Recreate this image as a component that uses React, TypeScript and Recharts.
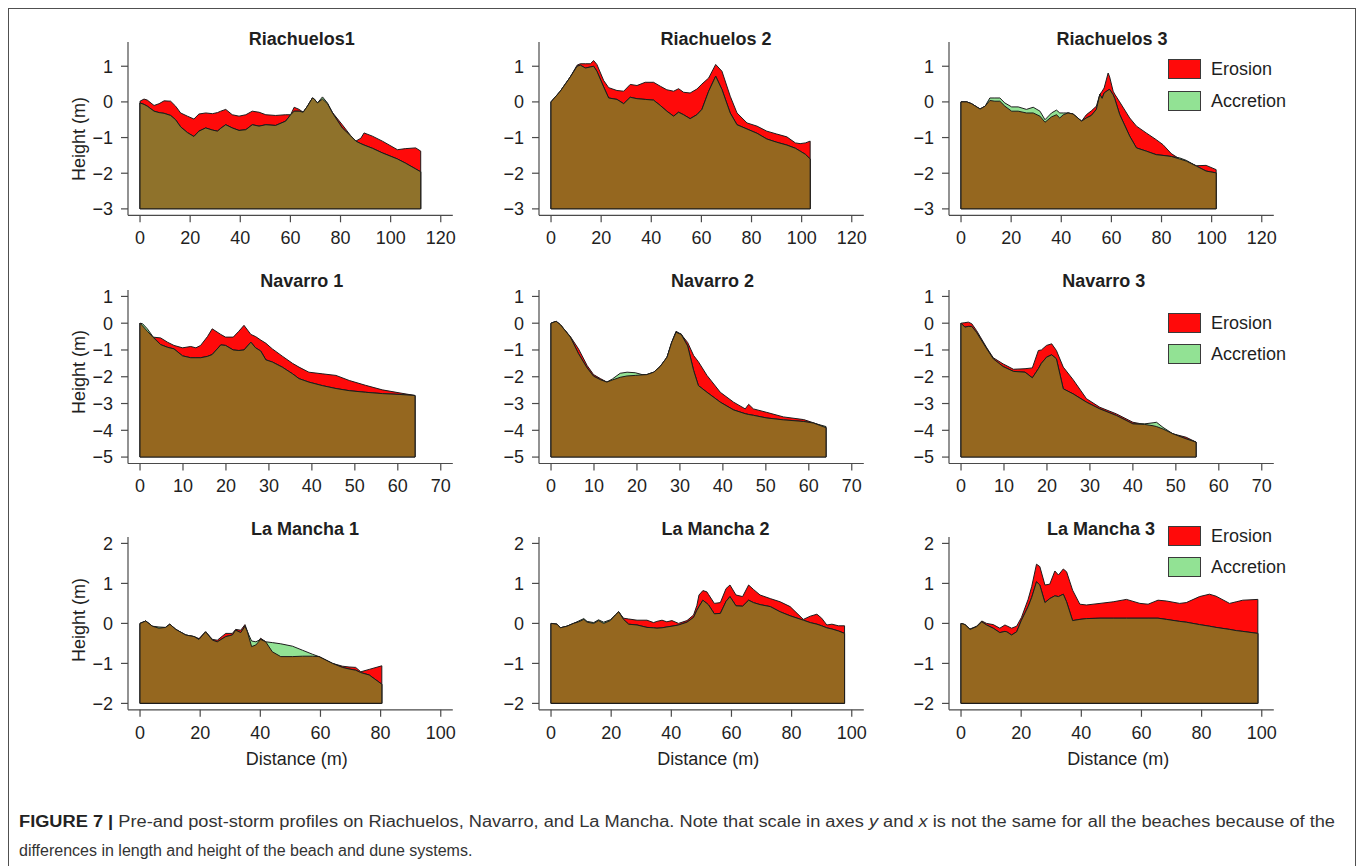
import React from 'react';
import { ComposedChart, Area, XAxis, YAxis, ReferenceLine, Legend } from 'recharts';

// ---- Profile data: distance (m), pre-storm and post-storm height (m) ----

const r1Dist = [0, 1.6, 2.9, 5.6, 7.6, 9.6, 12.2, 14.2, 16.2, 18.9, 21.5, 23.5, 26.2, 28.9, 30.9, 32.2, 34.2, 36.8, 39.5, 42.2, 44.8, 47.5, 50.2, 54.1, 58.1, 60.1, 61.5, 63.5, 65.1, 66.8, 68.8, 69.4, 70.8, 72.8, 74.8, 76.8, 80.7, 84, 86.1, 88.1, 89.4, 92.7, 96.7, 102.7, 106, 110, 112];
const r1Pre = [0.02, 0.08, 0.05, -0.1, -0.05, 0.03, 0.02, -0.12, -0.31, -0.4, -0.48, -0.34, -0.31, -0.33, -0.3, -0.26, -0.21, -0.36, -0.4, -0.36, -0.26, -0.29, -0.36, -0.38, -0.36, -0.36, -0.15, -0.21, -0.29, -0.12, 0.11, 0.09, -0.03, 0.08, -0.05, -0.3, -0.64, -0.94, -1.1, -1.02, -0.87, -0.96, -1.1, -1.34, -1.31, -1.29, -1.38];
const r1Post = [-0.03, -0.07, -0.12, -0.26, -0.3, -0.32, -0.38, -0.5, -0.7, -0.86, -0.97, -0.82, -0.73, -0.79, -0.82, -0.74, -0.64, -0.73, -0.8, -0.78, -0.64, -0.68, -0.64, -0.66, -0.54, -0.36, -0.26, -0.26, -0.29, -0.12, 0.11, 0.09, -0.03, 0.14, -0.03, -0.31, -0.73, -0.95, -1.1, -1.17, -1.21, -1.3, -1.43, -1.6, -1.72, -1.88, -1.96];

const r2Dist = [0, 3.7, 7.7, 10.4, 11.7, 13.7, 15.7, 17, 18.3, 21, 23, 26.3, 29, 31.6, 34.3, 37.6, 40.9, 43.6, 46.2, 48.9, 50.9, 52.9, 55.5, 58.2, 60.2, 62.9, 65.7, 68.2, 71.5, 74.2, 78.2, 82.2, 86.1, 90, 94.1, 97.5, 99.4, 101.5, 103.4];
const r2Pre = [0, 0.3, 0.7, 1.03, 1.07, 1.07, 1.07, 1.16, 1.05, 0.6, 0.4, 0.32, 0.3, 0.49, 0.46, 0.55, 0.55, 0.44, 0.34, 0.3, 0.37, 0.27, 0.25, 0.36, 0.5, 0.67, 1.05, 0.86, 0.16, -0.31, -0.59, -0.68, -0.82, -0.9, -0.98, -1.15, -1.17, -1.15, -1.1];
const r2Post = [0, 0.3, 0.7, 1.0, 1.03, 0.95, 0.98, 1.0, 0.86, 0.42, 0.11, 0.07, -0.05, 0.13, 0.09, 0.07, 0.05, -0.1, -0.26, -0.4, -0.29, -0.36, -0.47, -0.36, -0.21, 0.3, 0.72, 0.35, -0.31, -0.64, -0.76, -0.88, -1.04, -1.13, -1.21, -1.3, -1.38, -1.47, -1.6];

const r3Dist = [0, 2.3, 4.2, 7.6, 9.6, 11.5, 13.5, 15.5, 17.5, 20.2, 22.8, 26.1, 28.8, 31.5, 33.5, 36.1, 38.1, 39.4, 40.8, 42.7, 44.7, 48.1, 50, 52, 54, 55.4, 56.3, 57.1, 58.7, 59.3, 60.7, 61.3, 63.3, 67.3, 70, 73.9, 77.9, 80.6, 83.9, 87.2, 89.9, 93.9, 97.8, 101.8];
const r3Pre = [0, 0, -0.05, -0.2, -0.12, 0.04, 0.02, 0.02, -0.12, -0.26, -0.26, -0.31, -0.31, -0.4, -0.57, -0.42, -0.36, -0.45, -0.36, -0.31, -0.34, -0.54, -0.36, -0.25, -0.12, 0.21, 0.3, 0.39, 0.81, 0.7, 0.3, 0.22, 0, -0.45, -0.68, -0.87, -1.06, -1.2, -1.45, -1.6, -1.66, -1.79, -1.78, -1.9];
const r3Post = [0, 0, -0.05, -0.2, -0.12, 0.11, 0.11, 0.11, -0.03, -0.14, -0.14, -0.21, -0.15, -0.26, -0.5, -0.31, -0.23, -0.31, -0.31, -0.31, -0.34, -0.54, -0.45, -0.38, -0.21, 0.21, 0.1, 0.25, 0.33, 0.35, 0.2, 0.1, -0.35, -0.96, -1.29, -1.38, -1.48, -1.5, -1.53, -1.57, -1.64, -1.8, -1.94, -1.99];

const n1Dist = [0, 0.6, 1.7, 3, 4.8, 6.4, 7.9, 9.9, 11.8, 13, 14.1, 15.7, 16.8, 18.8, 19.9, 21.7, 23, 24.2, 25.8, 26.9, 28.1, 29.3, 30.8, 33.1, 35.5, 37, 39.3, 42.4, 45.6, 48.7, 52.5, 56.4, 60.3, 64];
const n1Pre = [0, -0.1, -0.3, -0.52, -0.55, -0.71, -0.83, -0.92, -0.87, -0.92, -0.83, -0.5, -0.21, -0.42, -0.52, -0.52, -0.3, -0.08, -0.42, -0.5, -0.63, -0.75, -0.96, -1.23, -1.5, -1.64, -1.83, -1.89, -1.95, -2.14, -2.32, -2.49, -2.6, -2.7];
const n1Post = [0, -0.02, -0.21, -0.5, -0.8, -0.9, -0.96, -1.22, -1.29, -1.29, -1.29, -1.24, -1.17, -0.81, -0.83, -1.0, -1.02, -1.0, -0.71, -0.92, -1.04, -1.37, -1.45, -1.64, -1.89, -2.07, -2.2, -2.33, -2.44, -2.52, -2.58, -2.63, -2.66, -2.7];

const n2Dist = [0, 1.2, 2.2, 4.5, 6.4, 8.4, 9.9, 11.5, 13, 14.3, 16.1, 17.7, 19.6, 21.2, 22.3, 23.9, 25.4, 27, 28.1, 29.1, 30.3, 31.8, 33.2, 34.3, 36.3, 39.4, 42.5, 45.2, 46, 47.1, 50.2, 54.1, 58.8, 61.1, 64];
const n2Pre = [0, 0.07, -0.06, -0.5, -0.96, -1.58, -1.92, -2.07, -2.2, -2.12, -2.02, -1.97, -1.95, -1.93, -1.92, -1.83, -1.62, -1.27, -0.71, -0.3, -0.42, -0.72, -1.21, -1.44, -1.95, -2.58, -2.95, -3.2, -3.03, -3.2, -3.33, -3.5, -3.6, -3.72, -3.9];
const n2Post = [0, 0.07, -0.06, -0.52, -1.14, -1.67, -1.98, -2.11, -2.2, -2.08, -1.87, -1.83, -1.85, -1.92, -1.92, -1.83, -1.62, -1.27, -0.71, -0.34, -0.4, -0.85, -1.77, -2.33, -2.58, -2.95, -3.24, -3.38, -3.41, -3.44, -3.54, -3.61, -3.67, -3.73, -3.86];

const n3Dist = [0, 0.9, 1.7, 2.5, 3.6, 6, 7.5, 9.8, 12.2, 14.9, 16.6, 18, 18.7, 19.9, 21.1, 22.2, 23.8, 26.1, 29.2, 32.3, 36.2, 40, 42.7, 44.7, 45.5, 47, 49.3, 52.4, 54.7];
const n3Pre = [0, 0.02, 0.04, -0.02, -0.27, -0.92, -1.29, -1.52, -1.72, -1.7, -1.67, -1.02, -1.0, -0.83, -0.77, -1.02, -1.64, -2.11, -2.82, -3.14, -3.39, -3.7, -3.78, -3.83, -3.86, -3.95, -4.13, -4.26, -4.44];
const n3Post = [0, -0.15, -0.12, -0.12, -0.34, -0.96, -1.33, -1.62, -1.8, -1.83, -2.04, -1.7, -1.5, -1.27, -1.18, -1.33, -2.45, -2.64, -2.95, -3.2, -3.45, -3.76, -3.76, -3.72, -3.7, -3.89, -4.13, -4.32, -4.44];

const m1Dist = [0, 1.9, 4.1, 6.3, 8.5, 9.9, 11.9, 15.2, 18, 19.6, 21.8, 24.1, 25.7, 28.5, 30.7, 31.8, 33.5, 34.9, 35.7, 37.1, 38.5, 40.1, 41.8, 44, 46.8, 50.7, 54, 57.3, 59.5, 64, 67.3, 69.5, 71.7, 73.4, 76.2, 80.4];
const m1Pre = [0, 0.06, -0.07, -0.12, -0.1, -0.02, -0.15, -0.29, -0.33, -0.38, -0.21, -0.4, -0.42, -0.25, -0.25, -0.15, -0.17, -0.03, -0.2, -0.58, -0.54, -0.37, -0.46, -0.71, -0.83, -0.83, -0.82, -0.82, -0.83, -1.0, -1.07, -1.09, -1.1, -1.21, -1.15, -1.06];
const m1Post = [0, 0.06, -0.07, -0.09, -0.1, -0.02, -0.15, -0.29, -0.33, -0.4, -0.21, -0.42, -0.46, -0.33, -0.29, -0.17, -0.23, -0.07, -0.21, -0.44, -0.46, -0.4, -0.46, -0.48, -0.51, -0.57, -0.67, -0.77, -0.83, -1.0, -1.1, -1.14, -1.17, -1.23, -1.29, -1.52];

const m2Dist = [0, 2, 3.1, 5.3, 7.5, 9.2, 10.9, 12, 14.2, 15.8, 17.5, 19.7, 21.4, 22.5, 24.1, 25.8, 28.6, 31.9, 34.1, 35.2, 36.9, 38.5, 40.2, 42.4, 45.2, 47.4, 48.5, 49.2, 50.5, 51.8, 52.4, 54.3, 56.3, 58.2, 59.5, 61.5, 63.7, 65.7, 67.3, 69.5, 72.9, 76.2, 79.5, 83.9, 86.2, 88.4, 90, 91.7, 93.4, 95.6, 97.6];
const m2Pre = [0, -0.02, -0.11, -0.07, 0, 0.04, 0.1, 0.03, 0, 0.07, 0, 0.07, 0.21, 0.29, 0.13, 0.11, 0.08, 0.08, 0.02, 0.05, 0.08, 0.04, 0.07, 0, 0.07, 0.21, 0.45, 0.71, 0.82, 0.79, 0.72, 0.5, 0.52, 0.87, 0.96, 0.71, 0.67, 0.96, 0.85, 0.71, 0.62, 0.54, 0.42, 0.1, 0.18, 0.23, 0.13, -0.04, -0.02, -0.06, -0.06];
const m2Post = [0, -0.02, -0.11, -0.07, 0, 0.06, 0.12, 0.05, 0.02, 0.09, 0.03, 0.09, 0.21, 0.29, 0.1, -0.02, -0.04, -0.1, -0.11, -0.12, -0.11, -0.09, -0.07, -0.04, 0.03, 0.15, 0.33, 0.42, 0.58, 0.5, 0.46, 0.24, 0.25, 0.55, 0.67, 0.44, 0.43, 0.58, 0.52, 0.47, 0.42, 0.29, 0.19, 0.08, 0.02, -0.02, -0.06, -0.11, -0.14, -0.19, -0.25];

const m3Dist = [0, 1.3, 3, 5.2, 6.9, 8.5, 10.7, 12.9, 14.6, 15.2, 16.8, 18.5, 20.1, 22.3, 23.5, 25.1, 26.2, 27.9, 29.5, 31.2, 32.4, 34, 35.1, 37.1, 39.5, 41.7, 46.2, 50.6, 55, 59.5, 62.2, 65.5, 68.3, 72.7, 74.9, 79.3, 82.6, 84.8, 89.3, 91.5, 93.7, 98.7];
const m3Pre = [0, -0.03, -0.14, -0.07, 0.06, 0, -0.03, -0.12, -0.04, -0.06, -0.12, -0.07, 0.15, 0.6, 0.92, 1.48, 1.42, 0.96, 0.98, 1.31, 1.21, 1.36, 1.29, 0.83, 0.48, 0.46, 0.5, 0.54, 0.6, 0.5, 0.48, 0.58, 0.56, 0.5, 0.52, 0.67, 0.73, 0.68, 0.5, 0.54, 0.58, 0.6];
const m3Post = [0, -0.03, -0.15, -0.08, 0.04, -0.04, -0.12, -0.23, -0.2, -0.21, -0.29, -0.21, 0.08, 0.42, 0.65, 1.04, 0.96, 0.52, 0.62, 0.69, 0.67, 0.73, 0.54, 0.07, 0.1, 0.12, 0.13, 0.13, 0.13, 0.13, 0.13, 0.13, 0.1, 0.05, 0.03, -0.03, -0.07, -0.1, -0.15, -0.18, -0.2, -0.25];

// ---- Axis limits and ticks for each row of panels ----
const xLimits = [[0, 120], [0, 70], [0, 100]];
const yLimits = [[-3, 1.5], [-5, 1], [-2, 2]];
const xTicks = [[0, 20, 40, 60, 80, 100, 120], [0, 10, 20, 30, 40, 50, 60, 70], [0, 20, 40, 60, 80, 100]];
const yTicks = [[-3, -2, -1, 0, 1], [-5, -4, -3, -2, -1, 0, 1], [-2, -1, 0, 1, 2]];

const panelTitles = ['Riachuelos1', 'Riachuelos 2', 'Riachuelos 3', 'Navarro 1', 'Navarro 2', 'Navarro 3', 'La Mancha 1', 'La Mancha 2', 'La Mancha 3'];
const legendLabels = ['Erosion', 'Accretion'];

const xLabel = 'Distance (m)';
const yLabel = 'Height (m)';

// ---- Styling / layout ----
const EROSION = '#ff0a0a';
const ACCRETION = '#92e294';
const SAND = '#95671f';
const SAND_OLIVE = '#8f722b';
const OUTLINE = '#1c1c1c';
const AXIS = '#4a4a4a';
const TEXT = '#1f1f1f';
const FONT = '"Liberation Sans", Arial, Helvetica, sans-serif';

const PLOT_LEFT = [128.3, 539, 949.3];
const PLOT_TOP = [42.4, 289.6, 536.9];
const PLOT_W = 324.8;
const PLOT_H = [173.3, 173.5, 172.8];
const Y_AXIS_W = 90;
const TOP_M = 40;
const RIGHT_M = 12;
const X_AXIS_H = 40;

const TITLE_POS = [
  [301.7, 39.3], [716, 39.3], [1112, 39.3],
  [301.7, 280.7], [712.5, 280.7], [1103.8, 280.7],
  [305, 529], [715.5, 529], [1101, 529],
];
const Y_LABEL_Y = [138.8, 371.7, 620];
const X_LABEL_X = [296.7, 708.3, 1118.3];
const X_LABEL_Y = 759.3;
const LEGEND_BOX_LEFT = 1168.3;
const LEGEND_BOX_TOP = [59.3, 312.7, 525.7];

const profiles = [
  [r1Dist, r1Pre, r1Post], [r2Dist, r2Pre, r2Post], [r3Dist, r3Pre, r3Post],
  [n1Dist, n1Pre, n1Post], [n2Dist, n2Pre, n2Post], [n3Dist, n3Pre, n3Post],
  [m1Dist, m1Pre, m1Post], [m2Dist, m2Pre, m2Post], [m3Dist, m3Pre, m3Post],
];

const expand = ([lo, hi]: number[]) => {
  const pad = (hi - lo) * 0.04;
  return [lo - pad, hi + pad];
};

const fmtTick = (v: number) => (v < 0 ? '\u2212' + Math.abs(v) : String(v));

// Closed polygon rows: drop to the floor at both ends so outlines include the sides.
function buildRows(dist: number[], pre: number[], post: number[], floor: number) {
  const rows = dist.map((d, i) => ({ d, pre: pre[i], post: post[i], base: Math.min(pre[i], post[i]) }));
  const first = dist[0];
  const last = dist[dist.length - 1];
  return [
    { d: first, pre: floor, post: floor, base: floor },
    ...rows,
    { d: last, pre: floor, post: floor, base: floor },
  ];
}

function LegendBlock() {
  return (
    <div style={{ fontFamily: FONT }}>
      {legendLabels.map((label, i) => (
        <div key={label} style={{ display: 'flex', alignItems: 'center', height: 20, marginBottom: i === 0 ? 11.4 : 0 }}>
          <span
            style={{
              display: 'inline-block',
              width: 33,
              height: 20,
              boxSizing: 'border-box',
              border: '1px solid #3a3a3a',
              background: i === 0 ? EROSION : ACCRETION,
            }}
          />
          <span style={{ marginLeft: 9.7, fontSize: 18, lineHeight: '20px', color: TEXT, whiteSpace: 'nowrap' }}>{label}</span>
        </div>
      ))}
    </div>
  );
}

function ProfilePanel({ index }: { index: number }) {
  const row = Math.floor(index / 3);
  const col = index % 3;
  const [dist, pre, post] = profiles[index];
  const floor = yLimits[row][0];
  const data = buildRows(dist, pre, post, floor);
  const width = Y_AXIS_W + PLOT_W + RIGHT_M;
  const height = TOP_M + PLOT_H[row] + X_AXIS_H;
  const left = PLOT_LEFT[col] - Y_AXIS_W;
  const top = PLOT_TOP[row] - TOP_M;
  const sand = index === 0 ? SAND_OLIVE : SAND;
  const xEnd = dist[dist.length - 1];

  return (
    <div style={{ position: 'absolute', left, top, width, height }}>
      <ComposedChart width={width} height={height} data={data} margin={{ top: TOP_M, right: RIGHT_M, bottom: 0, left: 0 }}>
        <XAxis
          type="number"
          dataKey="d"
          domain={expand(xLimits[row])}
          ticks={xTicks[row]}
          interval={0}
          allowDataOverflow
          height={X_AXIS_H}
          tickSize={7}
          tickMargin={9}
          stroke={AXIS}
          strokeWidth={1.2}
          tick={{ fontSize: 18, fill: TEXT }}
        />
        <YAxis
          type="number"
          domain={expand(yLimits[row])}
          ticks={yTicks[row]}
          interval={0}
          allowDataOverflow
          width={Y_AXIS_W}
          tickSize={7}
          tickMargin={8}
          stroke={AXIS}
          strokeWidth={1.2}
          tick={{ fontSize: 18, fill: TEXT }}
          tickFormatter={fmtTick}
        />
        <Area type="linear" dataKey="pre" baseValue={floor} fill={EROSION} fillOpacity={1} stroke={OUTLINE} strokeWidth={1} dot={false} activeDot={false} isAnimationActive={false} />
        <Area type="linear" dataKey="post" baseValue={floor} fill={ACCRETION} fillOpacity={1} stroke={OUTLINE} strokeWidth={1} dot={false} activeDot={false} isAnimationActive={false} />
        <Area type="linear" dataKey="base" baseValue={floor} fill={sand} fillOpacity={1} stroke={OUTLINE} strokeWidth={1} dot={false} activeDot={false} isAnimationActive={false} />
        <ReferenceLine segment={[{ x: dist[0], y: floor }, { x: xEnd, y: floor }]} stroke={OUTLINE} strokeWidth={1.2} />
        {col === 2 && (
          <Legend
            layout="horizontal"
            verticalAlign="middle"
            align="center"
            content={() => <LegendBlock />}
            wrapperStyle={{ left: LEGEND_BOX_LEFT - left, top: LEGEND_BOX_TOP[row] - top, width: 140, height: 52 }}
          />
        )}
      </ComposedChart>
    </div>
  );
}

const captionBold = 'FIGURE 7 |';
const captionLine1a = ' Pre-and post-storm profiles on Riachuelos, Navarro, and La Mancha. Note that scale in axes ';
const captionLine1b = ' and ';
const captionLine1c = ' is not the same for all the beaches because of the';
const captionLine2 = 'differences in length and height of the beach and dune systems.';

export default function App() {
  return (
    <div
      style={{
        position: 'absolute',
        left: 0,
        top: 0,
        width: 1358,
        height: 866,
        overflow: 'hidden',
        background: '#ffffff',
        fontFamily: FONT,
        color: TEXT,
      }}
    >
      {/* figure frame */}
      <div
        style={{
          position: 'absolute',
          left: 7.5,
          top: 7.5,
          width: 1346.5,
          height: 900,
          borderTop: '1.5px solid #505050',
          borderLeft: '1.5px solid #505050',
          borderRight: '1.5px solid #505050',
        }}
      />

      {panelTitles.map((t, i) => (
        <div
          key={t}
          style={{
            position: 'absolute',
            left: TITLE_POS[i][0],
            top: TITLE_POS[i][1],
            transform: 'translate(-50%, -50%)',
            fontWeight: 'bold',
            fontSize: 18,
            whiteSpace: 'nowrap',
            lineHeight: '20px',
          }}
        >
          {t}
        </div>
      ))}

      {Y_LABEL_Y.map((y, i) => (
        <div
          key={'yl' + i}
          style={{
            position: 'absolute',
            left: 79,
            top: y,
            transform: 'translate(-50%, -50%) rotate(-90deg)',
            fontSize: 18,
            whiteSpace: 'nowrap',
            lineHeight: '20px',
          }}
        >
          {yLabel}
        </div>
      ))}

      {X_LABEL_X.map((x, i) => (
        <div
          key={'xl' + i}
          style={{
            position: 'absolute',
            left: x,
            top: X_LABEL_Y,
            transform: 'translate(-50%, -50%)',
            fontSize: 18,
            whiteSpace: 'nowrap',
            lineHeight: '20px',
          }}
        >
          {xLabel}
        </div>
      ))}

      {panelTitles.map((t, i) => (
        <ProfilePanel key={'p' + i} index={i} />
      ))}

      <svg style={{ position: 'absolute', left: 0, top: 790 }} width={1358} height={76}>
        <text x={19} y={36.7} fontSize={16} fill="#333" textLength={1316} lengthAdjust="spacingAndGlyphs" fontFamily={FONT}>
          <tspan fontWeight="bold" fill="#222">{captionBold}</tspan>
          <tspan>{captionLine1a}</tspan>
          <tspan fontStyle="italic">y</tspan>
          <tspan>{captionLine1b}</tspan>
          <tspan fontStyle="italic">x</tspan>
          <tspan>{captionLine1c}</tspan>
        </text>
        <text x={19} y={65.7} fontSize={16} fill="#333" fontFamily={FONT}>
          {captionLine2}
        </text>
      </svg>
    </div>
  );
}
